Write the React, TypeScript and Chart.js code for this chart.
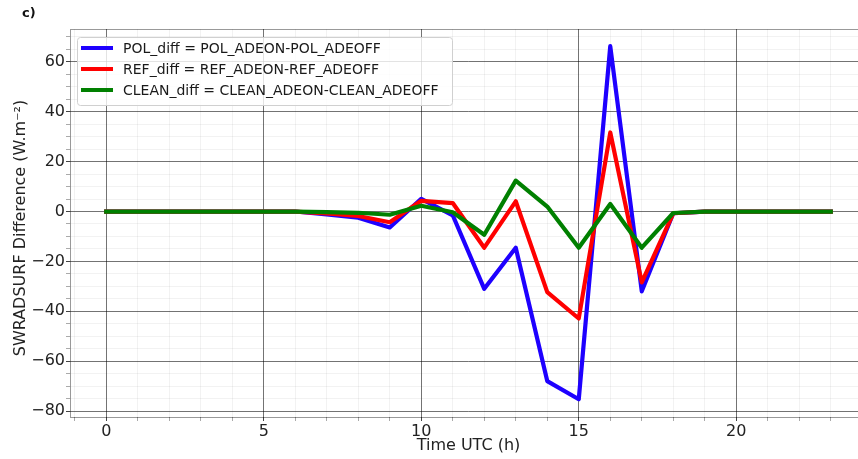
import { useEffect, useRef } from "react";
import { Chart, registerables } from "chart.js";

Chart.register(...registerables);

// Hourly surface shortwave radiation differences (ADE on minus ADE off), W.m-2
const HOURS = [0, 1, 2, 3, 4, 5, 6, 7, 8, 9, 10, 11, 12, 13, 14, 15, 16, 17, 18, 19, 20, 21, 22, 23];
const POL_DIFF = [0, 0, 0, 0, 0, 0, 0, -1.2, -2.5, -6.4, 5.1, -1.5, -31, -14.5, -68, -75.3, 66.3, -32, -0.7, 0, 0, 0, 0, 0];
const REF_DIFF = [0, 0, 0, 0, 0, 0, 0, -0.8, -1.8, -4.3, 4.3, 3.4, -14.5, 4.1, -32.3, -42.9, 31.7, -28.4, -0.7, 0, 0, 0, 0, 0];
const CLEAN_DIFF = [0, 0, 0, 0, 0, 0, 0, -0.2, -0.5, -1.3, 2.3, -0.3, -9.3, 12.4, 2, -14.5, 3, -14.5, -0.6, 0, 0, 0, 0, 0];

const SERIES_LABELS = [
  "POL_diff = POL_ADEON-POL_ADEOFF",
  "REF_diff = REF_ADEON-REF_ADEOFF",
  "CLEAN_diff = CLEAN_ADEON-CLEAN_ADEOFF",
];
const SERIES_COLORS = ["#1e00ff", "#ff0000", "#008000"];

const X_TICKS = [0, 5, 10, 15, 20];
const Y_TICKS = [-80, -60, -40, -20, 0, 20, 40, 60];
const X_MINOR_STEP = 1;
const Y_MINOR_STEP = 5;
const X_RANGE = [-1.15, 24.15];
const Y_RANGE = [-82.4, 73.2];

const PANEL_LABEL = "c)";
const X_TITLE = "Time UTC (h)";
const Y_TITLE = "SWRADSURF Difference (W.m\u207B\u00B2)";

const FONT = "'DejaVu Sans', 'Liberation Sans', sans-serif";
const MAJOR_GRID = "rgba(0,0,0,0.55)";
const MINOR_GRID = "rgba(0,0,0,0.05)";

function stepsBetween(lo: number, hi: number, step: number) {
  const out: number[] = [];
  for (let v = Math.ceil(lo / step) * step; v <= hi + 1e-9; v += step) out.push(Math.round(v * 1000) / 1000);
  return out;
}

function fmt(v: number) {
  return v < 0 ? "\u2212" + Math.abs(v) : String(v);
}

const framePlugin = {
  id: "frame",
  afterDatasetsDraw(chart: any) {
    const { ctx, chartArea: a } = chart;
    ctx.save();
    ctx.strokeStyle = "rgba(0,0,0,0.4)";
    ctx.lineWidth = 1;
    ctx.strokeRect(a.left + 0.5, a.top + 0.5, a.right - a.left - 1, a.bottom - a.top);
    ctx.restore();
  },
};

const labelsPlugin = {
  id: "innerLegend",
  afterDraw(chart: any) {
    const { ctx } = chart;
    ctx.save();
    // panel letter
    ctx.font = `bold 13px ${FONT}`;
    ctx.fillStyle = "#111";
    ctx.textBaseline = "middle";
    ctx.textAlign = "left";
    ctx.fillText(PANEL_LABEL, 22, 14);

    // y axis title, rotated
    ctx.save();
    ctx.translate(21, 228);
    ctx.rotate(-Math.PI / 2);
    ctx.textAlign = "center";
    ctx.font = `16px ${FONT}`;
    ctx.fillStyle = "#222";
    ctx.fillText(Y_TITLE, 0, 0);
    ctx.restore();

    // legend box in the upper-left corner of the plot
    const bx = 77.5, by = 37.5, bw = 375, bh = 68;
    ctx.beginPath();
    ctx.roundRect(bx, by, bw, bh, 3);
    ctx.fillStyle = "rgba(255,255,255,0.8)";
    ctx.fill();
    ctx.strokeStyle = "#d0d0d0";
    ctx.lineWidth = 1;
    ctx.stroke();

    ctx.font = `14px ${FONT}`;
    chart.data.datasets.forEach((ds: any, i: number) => {
      const y = 48 + i * 21;
      ctx.beginPath();
      ctx.moveTo(81, y);
      ctx.lineTo(113, y);
      ctx.strokeStyle = ds.borderColor;
      ctx.lineWidth = 4;
      ctx.stroke();
      ctx.fillStyle = "#1a1a1a";
      ctx.fillText(ds.label, 123, y + 1);
    });
    ctx.restore();
  },
};

export default function App() {
  const ref = useRef<HTMLCanvasElement>(null);

  useEffect(() => {
    const canvas = ref.current;
    if (!canvas) return;
    const series = [POL_DIFF, REF_DIFF, CLEAN_DIFF];
    const chart = new Chart(canvas, {
      type: "line",
      data: {
        datasets: series.map((vals, i) => ({
          label: SERIES_LABELS[i],
          data: HOURS.map((h, k) => ({ x: h, y: vals[k] })),
          borderColor: SERIES_COLORS[i],
          backgroundColor: SERIES_COLORS[i],
          borderWidth: 4.2,
          pointRadius: 0,
          tension: 0,
          borderJoinStyle: "round" as const,
          borderCapStyle: "square" as const,
          order: series.length - i,
        })),
      },
      options: {
        responsive: false,
        animation: false,
        devicePixelRatio: 1,
        layout: { padding: { top: 29, left: 0, right: 0, bottom: 0 } },
        plugins: { legend: { display: false }, tooltip: { enabled: false } },
        scales: {
          x: {
            type: "linear",
            min: X_RANGE[0],
            max: X_RANGE[1],
            afterBuildTicks: (s: any) => {
              s.ticks = stepsBetween(X_RANGE[0], X_RANGE[1], X_MINOR_STEP).map((v) => ({ value: v }));
            },
            afterFit: (s: any) => {
              s.height = 42;
            },
            border: { display: false },
            grid: {
              color: (c: any) => (X_TICKS.includes(c.tick?.value) ? MAJOR_GRID : MINOR_GRID),
              tickColor: (c: any) => (X_TICKS.includes(c.tick?.value) ? "#444" : "#aaa"),
              tickLength: 4,
              lineWidth: 1,
            },
            ticks: {
              autoSkip: false,
              maxRotation: 0,
              padding: 1,
              color: "#222",
              font: { family: FONT, size: 16 },
              callback: (v: any) => (X_TICKS.includes(v) ? fmt(v) : ""),
            },
            title: {
              display: true,
              text: X_TITLE,
              color: "#222",
              font: { family: FONT, size: 16 },
              padding: { top: 0, bottom: 4 },
            },
          },
          y: {
            type: "linear",
            min: Y_RANGE[0],
            max: Y_RANGE[1],
            afterBuildTicks: (s: any) => {
              s.ticks = stepsBetween(Y_RANGE[0], Y_RANGE[1], Y_MINOR_STEP).map((v) => ({ value: v }));
            },
            afterFit: (s: any) => {
              s.width = 70;
            },
            border: { display: false },
            grid: {
              color: (c: any) => (Y_TICKS.includes(c.tick?.value) ? MAJOR_GRID : MINOR_GRID),
              tickColor: (c: any) => (Y_TICKS.includes(c.tick?.value) ? "#444" : "#aaa"),
              tickLength: 4,
              lineWidth: 1,
            },
            ticks: {
              autoSkip: false,
              padding: 1,
              color: "#222",
              font: { family: FONT, size: 16 },
              callback: (v: any) => (Y_TICKS.includes(v) ? fmt(v) : ""),
            },
          },
        },
      },
      plugins: [framePlugin, labelsPlugin],
    });
    return () => chart.destroy();
  }, []);

  return (
    <div
      style={{
        position: "fixed",
        left: 0,
        top: 0,
        width: 858,
        height: 459,
        overflow: "hidden",
        background: "#fff",
      }}
    >
      <canvas ref={ref} width={867} height={459} style={{ display: "block", width: 867, height: 459 }} />
    </div>
  );
}
